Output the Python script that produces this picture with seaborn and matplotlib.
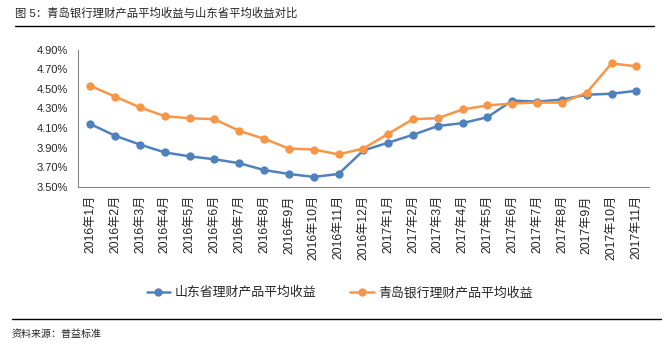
import pandas as pd
import matplotlib.pyplot as plt
import seaborn as sns
from matplotlib.ticker import FixedLocator, FormatStrFormatter
from matplotlib.lines import Line2D

months = ['2016年1月', '2016年2月', '2016年3月', '2016年4月', '2016年5月', '2016年6月',
          '2016年7月', '2016年8月', '2016年9月', '2016年10月', '2016年11月', '2016年12月',
          '2017年1月', '2017年2月', '2017年3月', '2017年4月', '2017年5月', '2017年6月',
          '2017年7月', '2017年8月', '2017年9月', '2017年10月', '2017年11月']
shandong = [4.14, 4.02, 3.93, 3.85, 3.81, 3.78, 3.74, 3.67, 3.63, 3.60, 3.63, 3.87,
            3.95, 4.03, 4.12, 4.15, 4.21, 4.38, 4.37, 4.39, 4.44, 4.45, 4.48]
qingdao = [4.53, 4.42, 4.31, 4.22, 4.20, 4.19, 4.07, 3.99, 3.89, 3.88, 3.83, 3.89,
           4.04, 4.19, 4.20, 4.29, 4.33, 4.35, 4.36, 4.36, 4.46, 4.76, 4.73]
series_names = ['山东省理财产品平均收益', '青岛银行理财产品平均收益']
colors = ['#4F81BD', '#F79646']

sns.set_style('white')
plt.rcParams['font.family'] = ['Liberation Sans', 'Noto Sans CJK SC', 'DejaVu Sans']

df = pd.DataFrame({
    'idx': list(range(len(months))) * 2,
    'value': shandong + qingdao,
    'series': [series_names[0]] * len(months) + [series_names[1]] * len(months),
})

fig = plt.figure(figsize=(6.64, 3.5), dpi=100)
ax = fig.add_axes([0.1175, 0.4666, 0.8595, 0.3914])

sns.lineplot(data=df, x='idx', y='value', hue='series', hue_order=series_names,
             palette=colors, marker='o', markersize=6, markeredgewidth=0,
             linewidth=1.8, ax=ax, legend=False)

ax.set_xlim(-0.5, len(months) - 0.5)
ax.set_ylim(3.5, 4.9)
ax.set_yticks([3.5, 3.7, 3.9, 4.1, 4.3, 4.5, 4.7, 4.9])
ax.yaxis.set_major_formatter(FormatStrFormatter('%.2f%%'))
ax.set_xticks(range(len(months)))
ax.set_xticklabels(months, rotation=90, fontsize=8.8)
ax.xaxis.set_minor_locator(FixedLocator([i - 0.5 for i in range(len(months) + 1)]))
ax.tick_params(axis='x', which='major', length=0, pad=6)
ax.tick_params(axis='x', which='minor', length=4, color='#868686', direction='out')
ax.tick_params(axis='y', length=4, color='#868686', direction='out', labelsize=8, pad=3)
ax.set_xlabel('')
ax.set_ylabel('')
for s in ['top', 'right']:
    ax.spines[s].set_visible(False)
for s in ['left', 'bottom']:
    ax.spines[s].set_color('#868686')
    ax.spines[s].set_linewidth(0.8)

handles = [Line2D([0], [0], color=c, marker='o', markersize=6, markeredgewidth=0, linewidth=1.8)
           for c in colors]
fig.legend(handles, series_names, loc='center', bbox_to_anchor=(0.512, 0.163), ncol=2,
           frameon=False, fontsize=9.3, handlelength=1.8, columnspacing=2.6, handletextpad=0.4)

fig.text(0.023, 0.962, '图 5：青岛银行理财产品平均收益与山东省平均收益对比', fontsize=8.2,
         ha='left', va='center')
fig.add_artist(Line2D([0.022, 0.985], [0.927, 0.927], color='black', linewidth=1))
fig.add_artist(Line2D([0.018, 0.995], [0.09, 0.09], color='black', linewidth=1))
fig.text(0.018, 0.047, '资料来源：普益标准', fontsize=7.2, ha='left', va='center')

fig.savefig('out.png', dpi=100)
